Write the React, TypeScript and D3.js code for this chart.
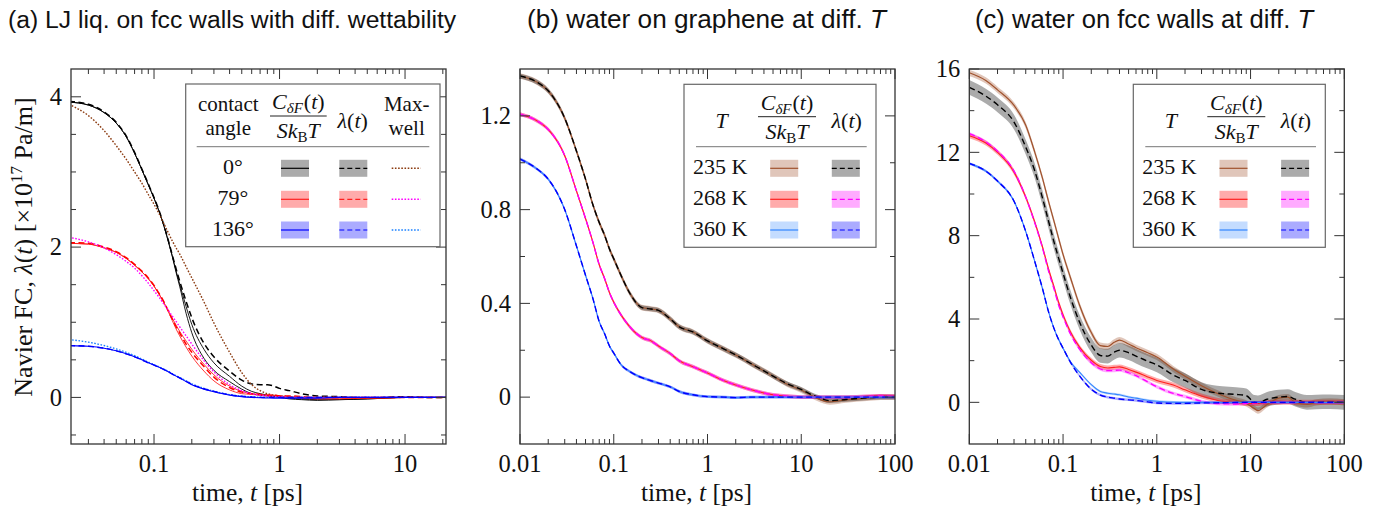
import React from 'react';
import * as d3 from 'd3';

// ---- data ----
// (a) LJ liquid, time grid in ps
const tA = [0.021, 0.03, 0.04, 0.05, 0.06, 0.07, 0.08, 0.09, 0.1, 0.11, 0.12, 0.13, 0.14, 0.15, 0.16, 0.18, 0.2, 0.25, 0.3, 0.4, 0.5, 0.6, 0.7, 0.8, 0.9, 1, 1.2, 1.5, 2, 3, 5, 7, 10, 15, 22];
const lamA0 = [3.94, 3.9, 3.8, 3.66, 3.48, 3.26, 3.04, 2.84, 2.66, 2.48, 2.29, 2.09, 1.89, 1.71, 1.55, 1.28, 1.06, 0.72, 0.54, 0.35, 0.23, 0.18, 0.17, 0.17, 0.15, 0.12, 0.09, 0.05, 0.02, 0.01, -0.01, 0, 0.01, 0, 0];
const cA0a = [3.93, 3.89, 3.79, 3.65, 3.47, 3.25, 3.03, 2.83, 2.65, 2.47, 2.28, 2.07, 1.87, 1.66, 1.48, 1.12, 0.86, 0.52, 0.36, 0.21, 0.11, 0.05, 0.03, 0.02, 0.01, 0, -0.02, -0.03, -0.04, -0.03, -0.02, -0.01, 0, 0, 0];
const cA0b = [3.93, 3.89, 3.79, 3.65, 3.47, 3.25, 3.03, 2.83, 2.65, 2.47, 2.28, 2.08, 1.88, 1.68, 1.51, 1.21, 0.97, 0.64, 0.46, 0.28, 0.15, 0.08, 0.05, 0.03, 0.02, 0.01, -0.01, -0.02, -0.03, -0.03, -0.02, -0.01, 0, 0, 0];
const mxA0 = [3.9, 3.75, 3.55, 3.35, 3.17, 3.0, 2.85, 2.7, 2.57, 2.44, 2.31, 2.19, 2.08, 1.99, 1.91, 1.74, 1.59, 1.27, 0.99, 0.6, 0.33, 0.17, 0.09, 0.05, 0.03, 0.02, 0.01, 0, 0, 0, 0, 0, 0, 0, 0];
const lamA1 = [2.06, 2.05, 2.0, 1.94, 1.86, 1.77, 1.68, 1.59, 1.49, 1.38, 1.27, 1.15, 1.04, 0.94, 0.86, 0.71, 0.6, 0.41, 0.27, 0.13, 0.07, 0.05, 0.04, 0.03, 0.03, 0.02, 0.02, 0.01, 0, 0, 0, 0, 0, 0, 0];
const cA1a = [2.05, 2.04, 1.99, 1.93, 1.85, 1.76, 1.67, 1.58, 1.48, 1.37, 1.26, 1.14, 1.02, 0.91, 0.82, 0.67, 0.55, 0.35, 0.22, 0.1, 0.05, 0.04, 0.03, 0.02, 0.02, 0.01, 0, -0.01, -0.02, -0.02, -0.01, -0.01, 0, 0, 0];
const cA1b = [2.05, 2.04, 1.99, 1.93, 1.85, 1.76, 1.67, 1.58, 1.48, 1.37, 1.26, 1.15, 1.05, 0.96, 0.88, 0.75, 0.64, 0.44, 0.3, 0.15, 0.08, 0.05, 0.04, 0.03, 0.03, 0.02, 0.01, 0, -0.01, -0.01, -0.01, 0, 0, 0, 0];
const mxA1 = [2.13, 2.07, 1.99, 1.9, 1.81, 1.72, 1.62, 1.52, 1.42, 1.33, 1.24, 1.16, 1.08, 1.01, 0.94, 0.82, 0.71, 0.49, 0.34, 0.17, 0.09, 0.05, 0.03, 0.02, 0.01, 0.01, 0, 0, 0, 0, 0, 0, 0, 0, 0];
const lamA2 = [0.69, 0.68, 0.655, 0.62, 0.58, 0.54, 0.5, 0.46, 0.43, 0.4, 0.37, 0.34, 0.31, 0.285, 0.26, 0.215, 0.175, 0.115, 0.08, 0.035, 0.015, 0.005, 0, 0, 0, 0, 0, 0, 0, 0, 0, 0, 0, 0, 0];
const cA2 = [0.69, 0.68, 0.655, 0.62, 0.58, 0.54, 0.5, 0.46, 0.43, 0.4, 0.37, 0.34, 0.31, 0.283, 0.257, 0.21, 0.17, 0.11, 0.075, 0.03, 0.01, 0, -0.005, -0.008, -0.01, -0.01, -0.01, -0.01, -0.01, 0, 0, 0, 0, 0, 0];
const mxA2 = [0.77, 0.735, 0.69, 0.645, 0.6, 0.555, 0.51, 0.47, 0.435, 0.405, 0.375, 0.345, 0.315, 0.29, 0.265, 0.22, 0.18, 0.12, 0.082, 0.037, 0.016, 0.006, 0.002, 0, 0, 0, 0, 0, 0, 0, 0, 0, 0, 0, 0];

// (b) water on graphene
const tB = [0.01, 0.015, 0.02, 0.03, 0.04, 0.05, 0.06, 0.07, 0.08, 0.09, 0.1, 0.12, 0.15, 0.2, 0.25, 0.3, 0.4, 0.5, 0.7, 1, 1.5, 2, 3, 5, 7, 10, 13, 15, 20, 30, 50, 70, 100];
const lamB235 = [1.37, 1.345, 1.307, 1.19, 1.05, 0.93, 0.82, 0.745, 0.69, 0.632, 0.59, 0.518, 0.44, 0.382, 0.376, 0.37, 0.334, 0.3, 0.278, 0.24, 0.205, 0.18, 0.14, 0.09, 0.058, 0.033, 0.01, 0, -0.015, -0.01, -0.003, 0, 0];
const cB235 = [1.37, 1.345, 1.307, 1.19, 1.05, 0.93, 0.82, 0.745, 0.69, 0.632, 0.59, 0.518, 0.44, 0.382, 0.376, 0.37, 0.334, 0.3, 0.278, 0.24, 0.205, 0.18, 0.14, 0.09, 0.056, 0.03, 0.006, -0.006, -0.02, -0.012, -0.005, 0, 0];
const lamB268 = [1.207, 1.18, 1.142, 1.03, 0.88, 0.762, 0.66, 0.565, 0.505, 0.446, 0.405, 0.35, 0.298, 0.254, 0.24, 0.218, 0.186, 0.155, 0.13, 0.103, 0.07, 0.052, 0.03, 0.01, 0.004, 0, 0, 0, 0, 0, 0.003, 0.005, 0.003];
const lamB360 = [1.016, 0.975, 0.93, 0.8, 0.645, 0.52, 0.42, 0.322, 0.27, 0.218, 0.188, 0.138, 0.108, 0.083, 0.07, 0.06, 0.044, 0.024, 0.01, 0.002, 0, -0.002, 0, 0, 0, 0, 0, 0, 0, 0, 0, 0, 0];

// (c) water on fcc walls
const tC = [0.01, 0.015, 0.02, 0.03, 0.04, 0.05, 0.06, 0.07, 0.08, 0.09, 0.1, 0.12, 0.15, 0.2, 0.25, 0.3, 0.35, 0.4, 0.5, 0.6, 0.8, 1, 1.5, 2, 3, 5, 7, 9, 11, 12, 15, 20, 25, 30, 40, 50, 70, 100];
const cC235 = [15.82, 15.45, 15.0, 14.25, 13.3, 12.0, 10.8, 9.65, 8.7, 7.85, 7.1, 5.98, 4.66, 3.35, 2.72, 2.68, 2.88, 2.99, 2.8, 2.62, 2.38, 2.18, 1.6, 1.25, 0.8, 0.33, 0.1, -0.05, -0.3, -0.4, -0.1, 0.2, 0.25, 0, -0.1, 0, 0.05, 0];
const lamC235 = [15.12, 14.7, 14.28, 13.45, 12.25, 11.1, 9.85, 8.7, 7.7, 6.9, 6.2, 5.03, 3.85, 2.75, 2.25, 2.22, 2.4, 2.5, 2.38, 2.22, 1.97, 1.8, 1.31, 1.05, 0.62, 0.42, 0.38, 0.32, 0, -0.02, 0.15, 0.25, 0.28, 0.15, 0, 0.02, 0.03, 0];
const cC268 = [12.8, 12.45, 12.0, 11.05, 9.85, 8.65, 7.5, 6.4, 5.55, 4.78, 4.2, 3.38, 2.65, 2.02, 1.72, 1.65, 1.68, 1.7, 1.58, 1.45, 1.22, 1.05, 0.83, 0.6, 0.3, 0.05, 0, -0.05, -0.05, -0.05, -0.02, 0, 0, 0, 0, 0, 0, 0];
const lamC268 = [12.9, 12.5, 12.05, 11.1, 9.85, 8.6, 7.45, 6.3, 5.45, 4.65, 4.1, 3.28, 2.55, 1.9, 1.6, 1.52, 1.53, 1.55, 1.42, 1.28, 0.98, 0.75, 0.43, 0.28, 0.05, -0.07, -0.08, -0.05, -0.03, -0.02, 0, 0, 0, 0, 0, 0, 0, 0];
const cC360 = [11.47, 11.1, 10.62, 9.65, 8.2, 6.75, 5.5, 4.35, 3.55, 3.0, 2.6, 1.95, 1.45, 0.85, 0.52, 0.44, 0.4, 0.36, 0.26, 0.2, 0.1, 0.05, 0.01, 0, 0, 0, 0, 0, 0, 0, 0, 0, 0, 0, 0, 0, 0, 0];
const lamC360 = [11.47, 11.1, 10.62, 9.65, 8.2, 6.75, 5.5, 4.35, 3.55, 3.0, 2.6, 1.92, 1.27, 0.63, 0.35, 0.25, 0.2, 0.16, 0.12, 0.09, 0.02, -0.03, -0.05, -0.05, -0.03, -0.02, -0.01, 0, 0, 0, 0, 0, 0, 0, 0, 0, 0, 0];

// tick labels
const xTicksA = [0.1, 1, 10];
const xTicksBC = [0.01, 0.1, 1, 10, 100];
const yTicksA = [0, 2, 4];
const yMinorA = [-0.5, 0.5, 1, 1.5, 2.5, 3, 3.5];
const yTicksB = [0, 0.4, 0.8, 1.2];
const yMinorB = [0.2, 0.6, 1.0];
const yTicksC = [0, 4, 8, 12, 16];
const yMinorC = [2, 6, 10, 14];
const anglesA = ['0°', '79°', '136°'];
const tempsBC = ['235 K', '268 K', '360 K'];

const SERIF = '"Liberation Serif", "Times New Roman", Times, serif';
const SANS = '"Liberation Sans", Arial, Helvetica, sans-serif';
const Y0 = 69;
const Y1 = 444;
const DASH = '6 3.5';
const DOT = '1.6 1.6';

interface Series {
  v: number[];
  color: string;
  width: number;
  dash?: string;
  band?: string;
  err?: number;
}

interface PanelProps {
  id: string;
  x0: number;
  x1: number;
  xDomain: [number, number];
  yDomain: [number, number];
  xTicks: number[];
  yTicks: number[];
  yMinor: number[];
  t: number[];
  series: Series[];
  children?: React.ReactNode;
}

const Panel: React.FC<PanelProps> = ({ id, x0, x1, xDomain, yDomain, xTicks, yTicks, yMinor, t, series, children }) => {
  const x = d3.scaleLog().domain(xDomain).range([x0, x1]);
  const y = d3.scaleLinear().domain(yDomain).range([Y1, Y0]);
  const line = d3.line<number>().x((_, i) => x(t[i])).y(d => y(d)).curve(d3.curveMonotoneX);
  const area = (err: number) =>
    d3.area<number>().x((_, i) => x(t[i])).y0(d => y(d - err)).y1(d => y(d + err)).curve(d3.curveMonotoneX);
  const isMajor = (v: number) => Math.abs(Math.log10(v) - Math.round(Math.log10(v))) < 1e-9;
  const xt = x.ticks();

  return (
    <g>
      <defs>
        <clipPath id={id}>
          <rect x={x0} y={Y0} width={x1 - x0} height={Y1 - Y0} />
        </clipPath>
      </defs>
      <g clipPath={`url(#${id})`}>
        {series.filter(s => s.band).map((s, i) => (
          <path key={'b' + i} d={area(s.err || 0)(s.v) || ''} fill={s.band} opacity={0.33} stroke="none" />
        ))}
        {series.map((s, i) => (
          <path key={'l' + i} d={line(s.v) || ''} fill="none" stroke={s.color} strokeWidth={s.width} strokeDasharray={s.dash} />
        ))}
      </g>
      {/* x ticks top and bottom */}
      {xt.map((v, i) => {
        const len = isMajor(v) ? 10 : 5;
        const px = x(v);
        return (
          <g key={'xt' + i} stroke="#333" strokeWidth={1}>
            <line x1={px} x2={px} y1={Y1} y2={Y1 - len} />
            <line x1={px} x2={px} y1={Y0} y2={Y0 + len} />
          </g>
        );
      })}
      {/* y ticks left and right */}
      {yTicks.concat(yMinor).map((v, i) => {
        const len = yTicks.includes(v) ? 10 : 5;
        const py = y(v);
        return (
          <g key={'yt' + i} stroke="#333" strokeWidth={1}>
            <line x1={x0} x2={x0 + len} y1={py} y2={py} />
            <line x1={x1} x2={x1 - len} y1={py} y2={py} />
          </g>
        );
      })}
      <rect x={x0} y={Y0} width={x1 - x0} height={Y1 - Y0} fill="none" stroke="#333" strokeWidth={1.3} />
      <g fontFamily={SERIF} fontSize={24.5} fill="#111">
        {xTicks.map(v => (
          <text key={'xl' + v} x={x(v)} y={472} textAnchor="middle">{String(v)}</text>
        ))}
        {yTicks.map(v => (
          <text key={'yl' + v} x={x0 - 9} y={y(v)} dy="0.34em" textAnchor="end">{String(v)}</text>
        ))}
      </g>
      <text x={(x0 + x1) / 2 - 11} y={501} textAnchor="middle" fontFamily={SERIF} fontSize={25.5} fill="#111">
        time, <tspan fontStyle="italic">t</tspan> [ps]
      </text>
      {children}
    </g>
  );
};

const Swatch: React.FC<{ cx: number; cy: number; band: string; color: string; dash?: string }> = ({ cx, cy, band, color, dash }) => (
  <g>
    <rect x={cx - 14} y={cy - 8.5} width={28} height={17} fill={band} opacity={0.33} />
    <line x1={cx - 14} x2={cx + 14} y1={cy} y2={cy} stroke={color} strokeWidth={1.2} strokeDasharray={dash} />
  </g>
);

const Fraction: React.FC<{ cx: number; barY: number; x1: number; x2: number }> = ({ cx, barY, x1, x2 }) => (
  <g>
    <text x={cx} y={barY - 7} textAnchor="middle">
      <tspan fontStyle="italic">C</tspan>
      <tspan fontStyle="italic" fontSize={15} dy={4}>δF</tspan>
      <tspan dy={-4} dx={1}>(</tspan>
      <tspan fontStyle="italic">t</tspan>
      <tspan>)</tspan>
    </text>
    <line x1={x1} x2={x2} y1={barY} y2={barY} stroke="#222" strokeWidth={1} />
    <text x={cx} y={barY + 22} textAnchor="middle">
      <tspan fontStyle="italic">Sk</tspan>
      <tspan fontSize={15} dy={4}>B</tspan>
      <tspan fontStyle="italic" dy={-4}>T</tspan>
    </text>
  </g>
);

const Lambda: React.FC<{ cx: number; y: number }> = ({ cx, y }) => (
  <text x={cx} y={y} textAnchor="middle">
    <tspan fontStyle="italic">λ</tspan>(<tspan fontStyle="italic">t</tspan>)
  </text>
);

const TwoLine: React.FC<{ cx: number; a: string; b: string }> = ({ cx, a, b }) => (
  <g fontSize={21}>
    <text x={cx} y={110.8} textAnchor="middle">{a}</text>
    <text x={cx} y={134.6} textAnchor="middle">{b}</text>
  </g>
);

const rowsY = [168.3, 199.3, 230];

const LegendA: React.FC = () => {
  const cBands = ['#000000', '#ff0000', '#0000ff'];
  const cLines = ['#000000', '#ff2020', '#0000ff'];
  const mx = ['#8b3a0f', '#ff00ff', '#1a80ff'];
  return (
    <g fontFamily={SERIF} fontSize={22} fill="#111">
      <rect x={185.7} y={84} width={254.3} height={162.7} fill="#fff" stroke="#666" strokeWidth={1.2} />
      <TwoLine cx={228.3} a="contact" b="angle" />
      <Fraction cx={298.3} barY={116} x1={270} x2={326.7} />
      <Lambda cx={352.7} y={127.5} />
      <TwoLine cx={406.7} a="Max-" b="well" />
      <line x1={196.7} x2={429.3} y1={146.7} y2={146.7} stroke="#777" strokeWidth={1} />
      {anglesA.map((a, i) => (
        <g key={a}>
          <text x={233} y={rowsY[i] + 5.5} textAnchor="middle">{a}</text>
          <Swatch cx={295} cy={rowsY[i]} band={cBands[i]} color={cLines[i]} />
          <Swatch cx={353.3} cy={rowsY[i]} band={cBands[i]} color={cLines[i]} dash="5 3" />
          <line x1={391.7} x2={420.7} y1={rowsY[i]} y2={rowsY[i]} stroke={mx[i]} strokeWidth={1.4} strokeDasharray={DOT} />
        </g>
      ))}
    </g>
  );
};

const bandsC = ['#a0522d', '#ff0000', '#4d94ff'];
const linesC = ['#a0522d', '#ff2020', '#3385ff'];
const bandsL = ['#000000', '#ff00ff', '#0000ff'];
const linesL = ['#000000', '#ff00ff', '#0000ff'];

const LegendT: React.FC<{ ox: number }> = ({ ox }) => (
  <g fontFamily={SERIF} fontSize={22} fill="#111" transform={`translate(${ox},0)`}>
    <rect x={684} y={84.3} width={192} height={163} fill="#fff" stroke="#666" strokeWidth={1.2} />
    <text x={721.7} y={127.7} textAnchor="middle" fontStyle="italic">T</text>
    <Fraction cx={787} barY={116.7} x1={758} x2={816} />
    <Lambda cx={846.7} y={127.7} />
    <line x1={696} x2={866.7} y1={146.7} y2={146.7} stroke="#777" strokeWidth={1} />
    {tempsBC.map((lab, i) => (
      <g key={lab}>
        <text x={693} y={rowsY[i] + 5.5}>{lab}</text>
        <Swatch cx={784.2} cy={rowsY[i]} band={bandsC[i]} color={linesC[i]} />
        <Swatch cx={845.8} cy={rowsY[i]} band={bandsL[i]} color={linesL[i]} dash="5 3" />
      </g>
    ))}
  </g>
);

const seriesA: Series[] = [
  { v: cA0a, color: '#000', width: 0.9 },
  { v: cA0b, color: '#000', width: 0.9 },
  { v: lamA0, color: '#000', width: 1.5, dash: DASH },
  { v: mxA0, color: '#8b3a0f', width: 1.4, dash: DOT },
  { v: cA1a, color: '#ff2020', width: 0.9 },
  { v: cA1b, color: '#ff2020', width: 0.9 },
  { v: lamA1, color: '#ff0000', width: 1.5, dash: DASH },
  { v: mxA1, color: '#ff00ff', width: 1.4, dash: DOT },
  { v: mxA2, color: '#1a80ff', width: 1.4, dash: DOT },
  { v: cA2, color: '#0000ff', width: 1.1 },
  { v: lamA2, color: '#0000ff', width: 1.4, dash: DASH },
];

const seriesB: Series[] = [
  { v: cB235, color: '#a0522d', width: 1.1, band: '#a0522d', err: 0.012 },
  { v: lamB235, color: '#000', width: 1.4, dash: DASH, band: '#000', err: 0.01 },
  { v: lamB268, color: '#ff2020', width: 1.1, band: '#ff0000', err: 0.008 },
  { v: lamB268, color: '#ff00ff', width: 1.4, dash: DASH, band: '#ff00ff', err: 0.008 },
  { v: lamB360, color: '#3385ff', width: 1.1, band: '#4d94ff', err: 0.006 },
  { v: lamB360, color: '#0000ff', width: 1.4, dash: DASH, band: '#0000ff', err: 0.006 },
];

const seriesC: Series[] = [
  { v: cC235, color: '#a0522d', width: 1.2, band: '#a0522d', err: 0.15 },
  { v: lamC235, color: '#000', width: 1.4, dash: DASH, band: '#000', err: 0.35 },
  { v: cC268, color: '#ff2020', width: 1.1, band: '#ff0000', err: 0.12 },
  { v: lamC268, color: '#ff00ff', width: 1.3, dash: DASH, band: '#ff00ff', err: 0.08 },
  { v: cC360, color: '#3385ff', width: 1.1, band: '#4d94ff', err: 0.06 },
  { v: lamC360, color: '#0000ff', width: 1.4, dash: DASH, band: '#0000ff', err: 0.06 },
];

export default function App() {
  return (
    <svg width={1379} height={512} style={{ position: 'absolute', left: 0, top: 0, background: '#fff' }}>
      <g fontFamily={SANS} fill="#111">
        <text x={8} y={28} fontSize={24.7}>(a) LJ liq. on fcc walls with diff. wettability</text>
        <text x={527} y={28} fontSize={26.2}>(b) water on graphene at diff. <tspan fontStyle="italic">T</tspan></text>
        <text x={975} y={28} fontSize={25.6}>(c) water on fcc walls at diff. <tspan fontStyle="italic">T</tspan></text>
      </g>
      <text
        transform="translate(32,247) rotate(-90)"
        textAnchor="middle"
        fontFamily={SERIF}
        fontSize={26}
        fill="#111"
      >
        Navier FC, <tspan fontStyle="italic">λ</tspan>(<tspan fontStyle="italic">t</tspan>) [×10
        <tspan fontSize={17} dy={-10}>17</tspan>
        <tspan dy={10}> Pa/m]</tspan>
      </text>
      <Panel id="clipA" x0={71} x1={446} xDomain={[0.0218, 21.2]} yDomain={[-0.62, 4.37]}
        xTicks={xTicksA} yTicks={yTicksA} yMinor={yMinorA} t={tA} series={seriesA}>
        <LegendA />
      </Panel>
      <Panel id="clipB" x0={520} x1={895} xDomain={[0.01, 100]} yDomain={[-0.2, 1.4]}
        xTicks={xTicksBC} yTicks={yTicksB} yMinor={yMinorB} t={tB} series={seriesB}>
        <LegendT ox={0} />
      </Panel>
      <Panel id="clipC" x0={969.3} x1={1344.3} xDomain={[0.01, 100]} yDomain={[-2, 16]}
        xTicks={xTicksBC} yTicks={yTicksC} yMinor={yMinorC} t={tC} series={seriesC}>
        <LegendT ox={449.3} />
      </Panel>
    </svg>
  );
}
